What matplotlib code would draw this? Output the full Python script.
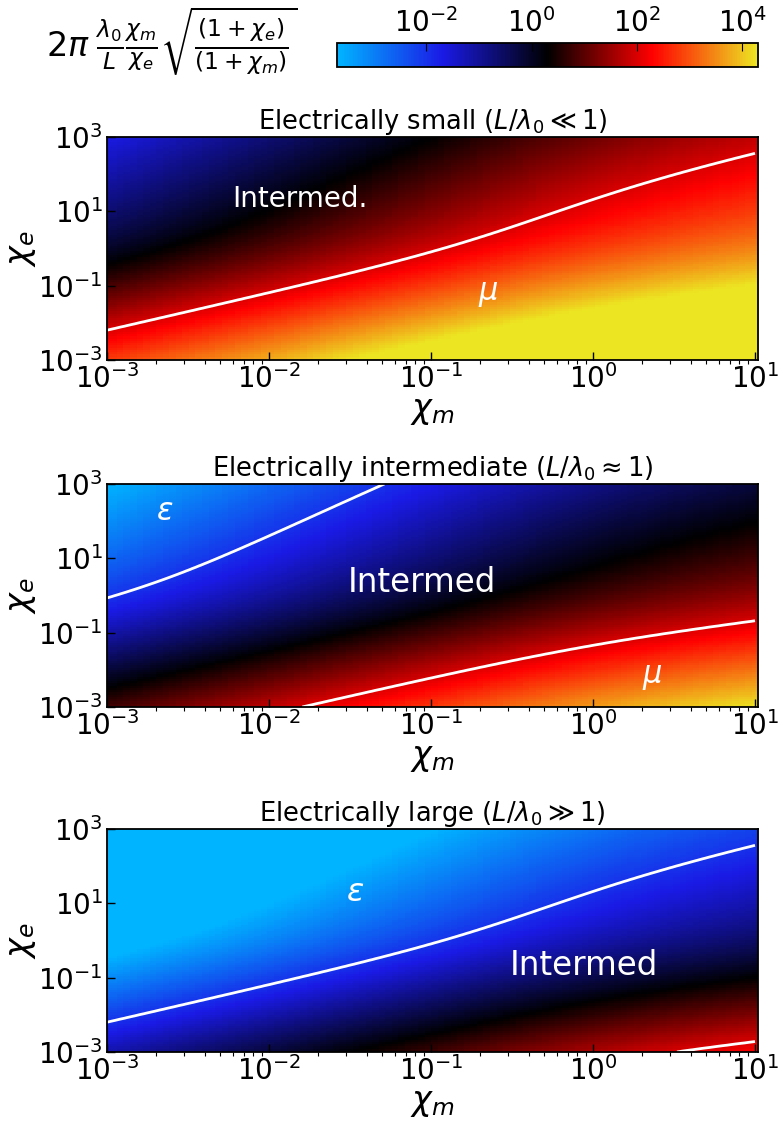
import numpy as np
import matplotlib
matplotlib.use("Agg")
from matplotlib import pyplot as plt
from matplotlib.colors import LogNorm, LinearSegmentedColormap
from matplotlib.ticker import NullLocator

# panel settings
lam_over_L = [100, 1, 0.01]
titles = [
    r"Electrically small ($L/\lambda_0 \ll 1$)",
    r"Electrically intermediate ($L/\lambda_0 \approx 1$)",
    r"Electrically large ($L/\lambda_0 \gg 1$)",
]
levels = [0.01, 100]
region_labels = [
    [("Intermed.", 0.0155, 21, 20), (r"$\mu$", 0.225, 0.057, 22)],
    [(r"$\varepsilon$", 0.00228, 177, 22), ("Intermed", 0.088, 2.2, 23.5),
     (r"$\mu$", 2.31, 0.0061, 22)],
    [(r"$\varepsilon$", 0.034, 19, 23), ("Intermed", 0.88, 0.21, 23.5)],
]
cbar_ticks = [1e-2, 1e0, 1e2, 1e4]
y_ticks = [1e-3, 1e-1, 1e1, 1e3]

chi_m = np.logspace(-3, 1, 100)
chi_e = np.logspace(-3, 3, 100)
CM, CE = np.meshgrid(chi_m, chi_e)

cmap = LinearSegmentedColormap.from_list(
    "bkry", ["#00b4ff", "#1a1ae6", "black", "#ff0000", "#ece622"]
)
norm = LogNorm(2e-4, 2e4)

fig = plt.figure(figsize=(7.79, 11.21), dpi=100)
bottoms = [0.6789, 0.3693, 0.0616]

for k in range(3):
    ax = fig.add_axes([0.1374, bottoms[k], 0.8357, 0.199])
    F = 2 * np.pi * lam_over_L[k] * CM / CE * np.sqrt((1 + CE) / (1 + CM))
    mesh = ax.pcolormesh(CM, CE, F, cmap=cmap, norm=norm, shading="nearest")
    ax.contour(CM, CE, F, levels=levels, colors="white", linewidths=2)
    ax.set_xscale("log")
    ax.set_yscale("log")
    ax.set_xlim(left=1e-3)
    ax.set_ylim(1e-3, 1e3)
    ax.set_yticks(y_ticks)
    ax.yaxis.set_minor_locator(NullLocator())
    ax.tick_params(which="major", direction="in", length=6, width=1, labelsize=20, pad=3)
    ax.tick_params(which="minor", direction="out", length=3, width=0.8)
    ax.set_xlabel(r"$\chi_m$", fontsize=24, labelpad=0)
    ax.set_ylabel(r"$\chi_e$", fontsize=24, labelpad=0)
    ax.set_title(titles[k], fontsize=18.5, pad=6)
    for s in ax.spines.values():
        s.set_linewidth(1.3)
    for txt, x, y, fs in region_labels[k]:
        ax.text(x, y, txt, color="white", fontsize=fs, ha="center", va="center")

cax = fig.add_axes([0.4326, 0.9402, 0.5404, 0.0214])
cb = fig.colorbar(mesh, cax=cax, orientation="horizontal", ticks=cbar_ticks)
cax.xaxis.set_ticks_position("top")
cax.xaxis.set_minor_locator(NullLocator())
cax.tick_params(which="major", direction="in", length=6, labelsize=20)
cb.outline.set_linewidth(1.3)

fig.text(0.221, 0.964,
         r"$2\pi\;\frac{\lambda_0}{L}\frac{\chi_m}{\chi_e}\sqrt{\frac{(1+\chi_e)}{(1+\chi_m)}}$",
         fontsize=24, ha="center", va="center")

fig.savefig("out.png", dpi=100)
